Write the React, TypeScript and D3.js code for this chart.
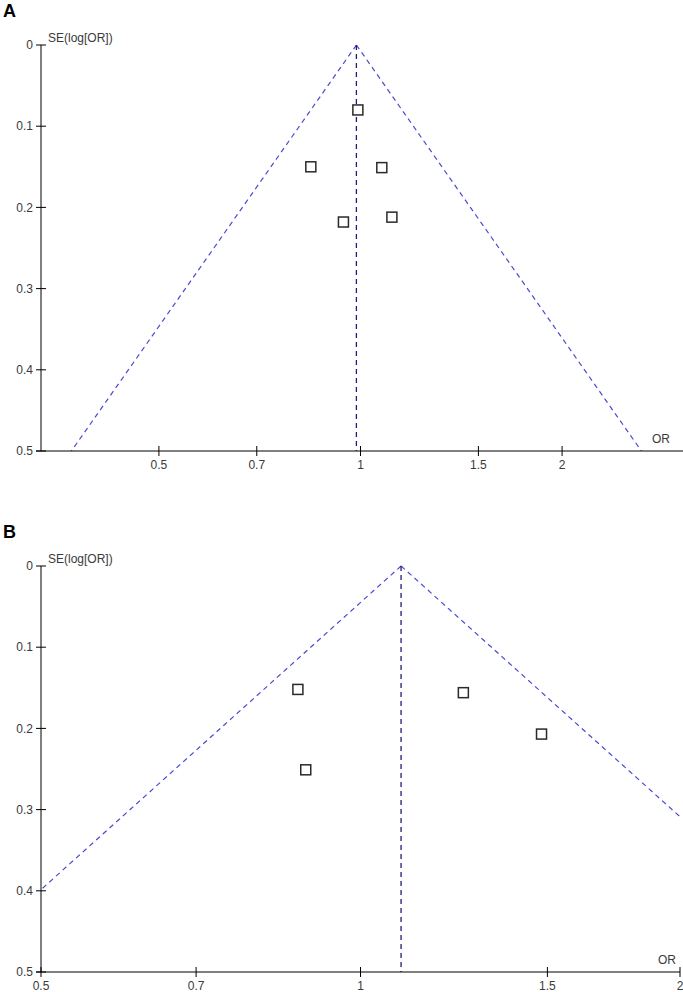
import React from "react";
import * as d3 from "d3";

const seTicks = [0, 0.1, 0.2, 0.3, 0.4, 0.5];
const seTickLabels = ["0", "0.1", "0.2", "0.3", "0.4", "0.5"];
const orTicks = [0.5, 0.7, 1, 1.5, 2];
const orTickLabels = ["0.5", "0.7", "1", "1.5", "2"];

const pooledA = 0.986;
const studyOrA = [0.991, 0.843, 1.076, 0.943, 1.114];
const studySeA = [0.08, 0.15, 0.151, 0.218, 0.212];

const pooledB = 1.092;
const studyOrB = [0.873, 0.888, 1.25, 1.481];
const studySeB = [0.152, 0.251, 0.156, 0.207];

const FONT = "'Liberation Sans Narrow', 'Liberation Sans', Arial, sans-serif";
const TEXT = "#3a3a3a";

type PanelProps = {
  letter: string;
  top: number;
  domain: [number, number];
  pooled: number;
  ors: number[];
  ses: number[];
  axisEnd: number;
  endTick: boolean;
};

function Panel({ letter, top, domain, pooled, ors, ses, axisEnd, endTick }: PanelProps) {
  const x0 = 41, x1 = 680;
  const y0 = top, y1 = top + 406;
  const x = d3.scaleLog().domain(domain).range([x0, x1]);
  const y = d3.scaleLinear().domain([0, 0.5]).range([y0, y1]);
  const clipId = "clip" + letter;
  const lp = Math.log(pooled);
  const funnel = d3.line<[number, number]>().x(d => x(d[0])).y(d => y(d[1]));
  const leftPts: [number, number][] = [[pooled, 0], [Math.exp(lp - 1.96 * 0.5), 0.5]];
  const rightPts: [number, number][] = [[pooled, 0], [Math.exp(lp + 1.96 * 0.5), 0.5]];
  const s = 10;
  return (
    <g>
      <defs>
        <clipPath id={clipId}>
          <rect x={x0} y={y0 - 2} width={x1 - x0} height={y1 - y0 + 2} />
        </clipPath>
      </defs>
      <text x={3} y={top - 28} fontFamily="Arial, 'Liberation Sans', sans-serif" fontWeight="bold" fontSize={18} fill="#000">{letter}</text>
      <g clipPath={`url(#${clipId})`}>
        <path d={funnel(leftPts) || ""} fill="none" stroke="#4a4ad0" strokeWidth={1.2} strokeDasharray="5,4" />
        <path d={funnel(rightPts) || ""} fill="none" stroke="#4a4ad0" strokeWidth={1.2} strokeDasharray="5,4" />
      </g>
      <line x1={x(pooled)} x2={x(pooled)} y1={y0} y2={y1} stroke="#1e1e7a" strokeWidth={1.3} strokeDasharray="5,4" />
      {ors.map((o, i) => (
        <rect key={i} x={x(o) - s / 2} y={y(ses[i]) - s / 2} width={s} height={s} fill="#fff" stroke="#2a2a2a" strokeWidth={1.5} />
      ))}
      <line x1={x0} x2={x0} y1={y0} y2={y1} stroke="#000" strokeWidth={1} />
      <line x1={x0 - 5} x2={axisEnd} y1={y1} y2={y1} stroke="#000" strokeWidth={1} />
      {seTicks.map((t, i) => (
        <g key={i}>
          <line x1={x0 - 5} x2={x0 + 5} y1={y(t)} y2={y(t)} stroke="#000" strokeWidth={1} />
          <text x={x0 - 8} y={y(t)} dy="0.35em" textAnchor="end" fontFamily={FONT} fontSize={12} fill={TEXT}>{seTickLabels[i]}</text>
        </g>
      ))}
      {orTicks.map((t, i) => (
        <g key={i}>
          <line x1={x(t)} x2={x(t)} y1={y1 - 5} y2={y1 + 5} stroke="#000" strokeWidth={1} />
          <text x={x(t)} y={y1 + 18} textAnchor="middle" fontFamily={FONT} fontSize={12} fill={TEXT}>{orTickLabels[i]}</text>
        </g>
      ))}
      <text x={x0 + 7} y={y0 - 3} fontFamily={FONT} fontSize={12} fill={TEXT}>SE(log[OR])</text>
      <text x={endTick ? 676 : 670} y={y1 - 8} textAnchor="end" fontFamily={FONT} fontSize={12} fill={TEXT}>OR</text>
    </g>
  );
}

export default function App() {
  return (
    <svg width={683} height={992} style={{ position: "absolute", left: 0, top: 0, background: "#fff" }}>
      <rect width={683} height={992} fill="#fff" />
      <Panel letter="A" top={45} domain={[1 / 3, 3]} pooled={pooledA} ors={studyOrA} ses={studySeA} axisEnd={683} endTick={false} />
      <Panel letter="B" top={566} domain={[0.5, 2]} pooled={pooledB} ors={studyOrB} ses={studySeB} axisEnd={680} endTick={true} />
    </svg>
  );
}
